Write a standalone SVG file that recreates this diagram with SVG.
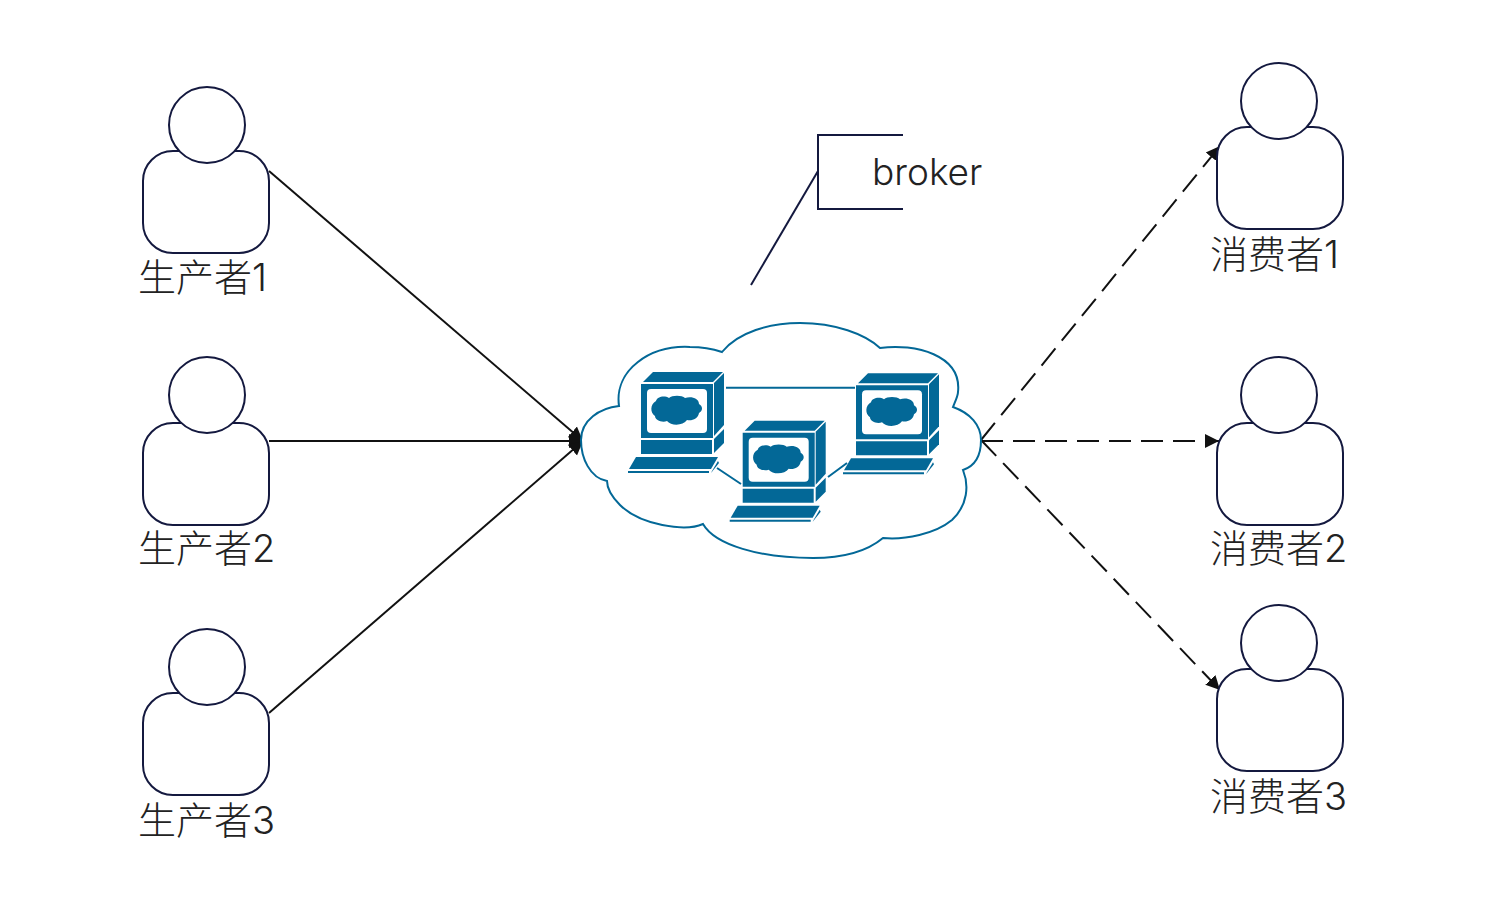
<svg xmlns="http://www.w3.org/2000/svg" xmlns:xlink="http://www.w3.org/1999/xlink" width="1498" height="920" viewBox="0 0 1498 920">
<style>
.p{fill:#fff;stroke:#14193f;stroke-width:2}
.lbl{font-family:Inter,"Noto Sans CJK SC",sans-serif;font-weight:300;font-size:38px;fill:#222}
.c{fill:none;stroke:#111;stroke-width:2}
.d{stroke-dasharray:22 10}
.blue{fill:#036897}
.lk{stroke:#036897;stroke-width:2;fill:none}
</style>
<defs>
<marker id="a" markerWidth="16" markerHeight="16" refX="14" refY="8" orient="auto" markerUnits="userSpaceOnUse"><path d="M0 1 L14 8 L0 15 Z" fill="#111"/></marker>
<g id="pc">
<path class="blue" d="M643 382L653 372H723L713 382Z"/>
<path class="blue" d="M641 384H713V438H641Z"/>
<rect x="647" y="389" width="60" height="44" rx="4" fill="#fff"/>
<path class="blue" d="M656 401C657 397 664 395 669 398C672 395 682 395 685 398C691 396 699 398 699 404C703 406 703 411 699 413C698 419 692 421 687 420C683 426 671 426 667 421C662 423 655 420 655 416C650 413 650 404 656 401Z"/>
<path class="blue" d="M714 383L724 373V425L714 436Z"/>
<path class="blue" d="M641 440H712V454H641Z"/>
<path class="blue" d="M714 439L724 429V443L714 453Z"/>
<path class="blue" d="M636 457H718L711 469H629Z"/>
<path class="blue" d="M628 471H709V473H628Z"/>
<path class="blue" d="M712 471L718 461L719 463L711 473Z"/>
</g>
</defs>
<g id="connectors">
<path class="c" marker-end="url(#a)" d="M269 171L583 441"/>
<path class="c" marker-end="url(#a)" d="M269 441H583"/>
<path class="c" marker-end="url(#a)" d="M269 713L583 441"/>
<path class="c d" marker-end="url(#a)" d="M981 440L1220 146"/>
<path class="c d" marker-end="url(#a)" d="M981 441H1219"/>
<path class="c d" marker-end="url(#a)" d="M981 440L1220 690"/>
</g>
<g id="broker-cloud">
<path fill="#fff" stroke="#036897" stroke-width="2" d="M722 352C738 332 770 323 800 323C835 323 865 334 880 348C915 343 962 355 958 392C958 396 955 402 953 407C970 413 981 425 981 440C981 455 975 466 963 470C969 485 968 505 952 520C935 534 905 540 883 538C865 553 840 558 813 558C760 558 715 545 703 524C685 532 640 525 620 505C612 497 607 490 607 481C590 478 581 458 581 440C581 420 600 408 619 406C614 370 650 345 690 347C702 347 713 349 722 352Z"/>
<path class="lk" d="M726 387.7H855M717 468L741 484M828 477L847 463"/>
<use xlink:href="#pc" href="#pc"/>
<use xlink:href="#pc" href="#pc" transform="translate(101.7 48.7)"/>
<use xlink:href="#pc" href="#pc" transform="translate(215 1.3)"/>
</g>
<g id="broker-callout">
<path fill="none" stroke="#14193f" stroke-width="2" d="M903 135H818V209H903"/>
<path fill="none" stroke="#14193f" stroke-width="2" d="M818 171L751 285"/>
<text x="872" y="185" style="font-family:Inter,'Liberation Sans',sans-serif;font-weight:300;font-size:37px;fill:#222">broker</text>
</g>
<g id="producer1"><rect class="p" x="143" y="151" width="126" height="102" rx="30"/><circle class="p" cx="207" cy="125" r="38"/><text class="lbl" x="138" y="291">生产者1</text></g>
<g id="producer2"><rect class="p" x="143" y="423" width="126" height="102" rx="30"/><circle class="p" cx="207" cy="395" r="38"/><text class="lbl" x="138" y="562">生产者2</text></g>
<g id="producer3"><rect class="p" x="143" y="693" width="126" height="102" rx="30"/><circle class="p" cx="207" cy="667" r="38"/><text class="lbl" x="138" y="834">生产者3</text></g>
<g id="consumer1"><rect class="p" x="1217" y="127" width="126" height="102" rx="30"/><circle class="p" cx="1279" cy="101" r="38"/><text class="lbl" x="1210" y="268">消费者1</text></g>
<g id="consumer2"><rect class="p" x="1217" y="423" width="126" height="102" rx="30"/><circle class="p" cx="1279" cy="395" r="38"/><text class="lbl" x="1210" y="562">消费者2</text></g>
<g id="consumer3"><rect class="p" x="1217" y="669" width="126" height="102" rx="30"/><circle class="p" cx="1279" cy="643" r="38"/><text class="lbl" x="1210" y="810">消费者3</text></g>
</svg>
